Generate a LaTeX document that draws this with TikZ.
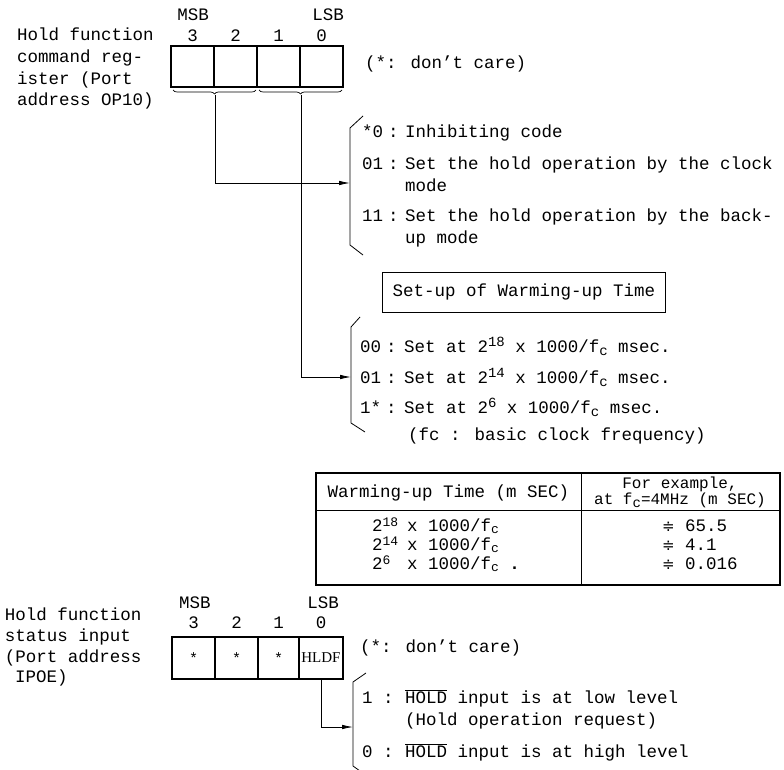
\documentclass[tikz,border=0pt]{standalone}
\usepackage{fontspec}
\setmainfont{Liberation Mono}
\newfontfamily\serifhl{Liberation Serif}
\newfontfamily\symfont{DejaVu Sans}
\usetikzlibrary{arrows.meta,decorations.pathreplacing}
\newcommand\supx[1]{\raisebox{6pt}[0pt][0pt]{\fontsize{14}{14}\selectfont #1}}
\newcommand\subx[1]{\raisebox{-3pt}[0pt][0pt]{\fontsize{14}{14}\selectfont #1}}
\newcommand\supr[1]{\raisebox{5pt}[0pt][0pt]{\fontsize{13}{13}\selectfont #1}}
\newcommand\subr[1]{\raisebox{-2pt}[0pt][0pt]{\fontsize{13}{13}\selectfont #1}}
\newcommand\nearly{{\symfont\fontsize{15}{15}\selectfont ≑}}
\tikzset{
  txt/.style={font=\fontsize{17.5}{21.5}\selectfont, inner sep=0pt, outer sep=0pt, anchor=base west},
  ctr/.style={txt, anchor=base},
  rowtxt/.style={txt, font=\fontsize{17.5}{21}\selectfont, text height=10pt, text depth=2pt},
  hdtxt/.style={ctr, font=\fontsize{16}{18}\selectfont, text height=10pt, text depth=2pt},
  cell/.style={draw, line width=1.6pt, minimum width=43pt, minimum height=41pt, inner sep=0pt},
  conn/.style={line width=0.8pt},
  arr/.style={conn, -{Latex[length=11pt,width=4.5pt]}},
  brk/.style={line width=0.8pt},
  brc/.style={line width=0.7pt, decorate, decoration={brace, amplitude=4pt}}
}
\begin{document}
\begin{tikzpicture}[x=1pt,y=-1pt]
\useasboundingbox (0,0) rectangle (784,770);

% ---------- top register ----------
\node[txt] (tl1) at (17,41) {Hold function};
\node[txt] (tl2) at (17,63) {command reg-};
\node[txt] (tl3) at (17,85) {ister (Port};
\node[txt] (tl4) at (17,106) {address OP10)};
\node[ctr] (tmsb) at (193,21) {MSB};
\node[ctr] (tlsb) at (328,21) {LSB};
\node[ctr] (td3) at (192.5,42) {3};
\node[ctr] (td2) at (235.5,42) {2};
\node[ctr] (td1) at (278.5,42) {1};
\node[ctr] (td0) at (321.5,42) {0};
\node[cell] (tc3) at (192.5,66.5) {};
\node[cell] (tc2) at (235.5,66.5) {};
\node[cell] (tc1) at (278.5,66.5) {};
\node[cell] (tc0) at (321.5,66.5) {};
\node[txt] (tdc) at (365,69) {(*: don't care)};
\draw[brc] (256,90) -- (173,90);
\draw[brc] (342,90) -- (259,90);
\coordinate (tip1) at (215,95);
\coordinate (tip2) at (301,95);

% bracket 1
\draw[brk] (363,116) -- (350,128) -- (350,245) -- (363,255);
\coordinate (b1) at (350,183);
\draw[arr] (tip1) |- (b1);
\node[txt] (p1) at (362,138) {*0};
\node[txt] (k1) at (388,138) {:};
\node[txt] (s1) at (405,138) {Inhibiting code};
\node[txt] (p2) at (362,170) {01};
\node[txt] (k2) at (388,170) {:};
\node[txt] (s2) at (405,170) {Set the hold operation by the clock};
\node[txt] (s2b) at (405,192) {mode};
\node[txt] (p3) at (362,222) {11};
\node[txt] (k3) at (388,222) {:};
\node[txt] (s3) at (405,222) {Set the hold operation by the back-};
\node[txt] (s3b) at (405,243) {up mode};

% set-up box
\node[draw, line width=1pt, font=\fontsize{17.5}{21.5}\selectfont, anchor=west, inner xsep=10pt, minimum height=40pt] (setup) at (382,292) {Set-up of Warming-up Time};

% bracket 2
\draw[brk] (360,317) -- (351,327) -- (351,423) -- (365,432);
\coordinate (b2) at (351,377);
\draw[arr] (tip2) |- (b2);
\node[txt] (q1) at (360,352) {00};
\node[txt] (m1) at (386,352) {:};
\node[txt] (w1) at (404,352) {Set at 2\supx{18} x 1000/f\subx{c} msec.};
\node[txt] (q2) at (360,383) {01};
\node[txt] (m2) at (386,383) {:};
\node[txt] (w2) at (404,383) {Set at 2\supx{14} x 1000/f\subx{c} msec.};
\node[txt] (q3) at (360,413) {1*};
\node[txt] (m3) at (386,413) {:};
\node[txt] (w3) at (404,413) {Set at 2\supx{6} x 1000/f\subx{c} msec.};
\node[txt] (fcn) at (408,440) {(fc : basic clock frequency)};

% ---------- table ----------
\draw[line width=1.6pt] (316,473) rectangle (780,585);
\draw[line width=0.8pt] (316,510) -- (780,510);
\draw[line width=0.8pt] (581,473) -- (581,585);
\node[ctr] (th1) at (448.5,497) {Warming-up Time (m SEC)};
\node[hdtxt] (th2) at (680,488) {For example,};
\node[hdtxt] (th3) at (680,504) {at f\subx{c}=4MHz (m SEC)};
\node[rowtxt] (r1a) at (372,531) {2\supr{18}};
\node[rowtxt] (r1b) at (407,531) {x 1000/f\subr{c}};
\node[rowtxt] (r2a) at (372,550) {2\supr{14}};
\node[rowtxt] (r2b) at (407,550) {x 1000/f\subr{c}};
\node[rowtxt] (r3a) at (372,569) {2\supr{6}};
\node[rowtxt] (r3b) at (407,569) {x 1000/f\subr{c} {\bfseries .}};
\node[rowtxt] (v1) at (662,531) {\nearly{} 65.5};
\node[rowtxt] (v2) at (662,550) {\nearly{} 4.1};
\node[rowtxt] (v3) at (662,569) {\nearly{} 0.016};

% ---------- bottom register ----------
\node[txt] (bl1) at (5,620) {Hold function};
\node[txt] (bl2) at (5,641) {status input};
\node[txt] (bl3) at (5,662) {(Port address};
\node[txt] (bl4) at (15,682) {IPOE)};
\node[ctr] (bmsb) at (195,608) {MSB};
\node[ctr] (blsb) at (323,608) {LSB};
\node[ctr] (bd3) at (193.5,628) {3};
\node[ctr] (bd2) at (236.5,628) {2};
\node[ctr] (bd1) at (278.5,628) {1};
\node[ctr] (bd0) at (321,628) {0};
\node[cell, minimum height=42pt] (bc3) at (193.5,658) {\fontsize{15}{15}\selectfont *};
\node[cell, minimum height=42pt] (bc2) at (236.5,658) {\fontsize{15}{15}\selectfont *};
\node[cell, minimum height=42pt, minimum width=41pt] (bc1) at (278.5,658) {\fontsize{15}{15}\selectfont *};
\node[cell, minimum height=42pt, minimum width=44pt] (bc0) at (321,658) {\serifhl\fontsize{15}{15}\selectfont HLDF};
\node[txt] (bdc) at (360,652) {(*: don't care)};

% bracket 3
\draw[brk] (366,673) -- (353,682) -- (353,766) -- (360,771);
\coordinate (b3) at (353,727);
\draw[arr] (bc0.south) |- (b3);
\node[txt] (h1) at (362,703) {1};
\node[txt] (n1) at (383,703) {:};
\node[txt] (e1) at (405,703) {$\overline{\mbox{HOLD}}$ input is at low level};
\node[txt] (e1b) at (405,725) {(Hold operation request)};
\node[txt] (h2) at (362,757) {0};
\node[txt] (n2) at (383,757) {:};
\node[txt] (e2) at (405,757) {$\overline{\mbox{HOLD}}$ input is at high level};
\end{tikzpicture}
\end{document}
